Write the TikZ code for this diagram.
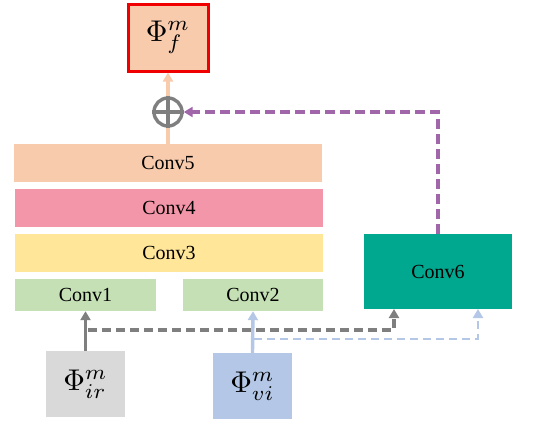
\documentclass[tikz,border=0pt]{standalone}
\usepackage{fontspec}
\setmainfont{Liberation Serif}
\usetikzlibrary{arrows.meta}
\definecolor{cpeach}{RGB}{248,203,173}
\definecolor{cpink}{RGB}{244,150,169}
\definecolor{cyellow}{RGB}{255,230,153}
\definecolor{cgreen}{RGB}{197,224,180}
\definecolor{cteal}{RGB}{0,168,143}
\definecolor{cgrayfill}{RGB}{217,217,217}
\definecolor{cbluefill}{RGB}{180,199,231}
\definecolor{cgrayline}{RGB}{127,127,127}
\definecolor{cpurple}{RGB}{161,102,170}
\definecolor{cred}{RGB}{240,0,0}
\newcommand{\bigmath}[1]{\scalebox{3.0}{$#1$}}
\tikzset{
  convbox/.style={rectangle, inner sep=0pt, font=\fontsize{20}{22}\selectfont},
  phibox/.style={rectangle, inner sep=0pt, minimum width=79pt, minimum height=66pt},
  tipstyle/.style={-{Triangle[width=10pt,length=9pt]}},
  grayarrow/.style={tipstyle, draw=cgrayline, line width=3.4pt},
  bluearrow/.style={tipstyle, draw=cbluefill, line width=3.4pt},
  dashpat/.style={dash pattern=on 9pt off 5pt},
}
\begin{document}
\begin{tikzpicture}[x=1pt,y=-1pt]
\useasboundingbox (0,0) rectangle (554,431);
% output
\node[phibox, fill=cpeach, draw=cred, line width=3pt, minimum width=80pt, minimum height=67pt] (phif) at (168,37.5) {\bigmath{\Phi_f^m}};
% plus
\node[circle, draw=cgrayline, line width=3.4pt, minimum size=28pt, inner sep=0pt] (plus) at (168,112) {};
\draw[cgrayline, line width=3.4pt] (plus.north) -- (plus.south) (plus.west) -- (plus.east);
% stack
\node[convbox, fill=cpeach, minimum width=308pt, minimum height=38pt] (conv5) at (168,163) {Conv5};
\node[convbox, fill=cpink, minimum width=308pt, minimum height=38pt] (conv4) at (169,208) {Conv4};
\node[convbox, fill=cyellow, minimum width=308pt, minimum height=38pt] (conv3) at (169,253) {Conv3};
\node[convbox, fill=cgreen, minimum width=141pt, minimum height=32pt] (conv1) at (85.5,295) {Conv1};
\node[convbox, fill=cgreen, minimum width=140pt, minimum height=32pt] (conv2) at (253,295) {Conv2};
\node[convbox, fill=cteal, minimum width=148pt, minimum height=75pt] (conv6) at (438,271.5) {Conv6};
% inputs
\node[phibox, fill=cgrayfill] (phiir) at (85.5,384) {\bigmath{\Phi_{ir}^m}};
\node[phibox, fill=cbluefill] (phivi) at (252.5,386) {\bigmath{\Phi_{vi}^m}};
% connectors
\draw[draw=cpeach, line width=3.4pt] (conv5.north) -- (plus.south);
\draw[tipstyle, draw=cpeach, line width=3.4pt] (plus.north) -- (phif.south);
\draw[tipstyle, draw=cpurple, line width=3.2pt, dash pattern=on 10pt off 5pt] (conv6.north) |- (plus.east);
\draw[grayarrow] (phiir.north) -- (conv1.south);
\draw[bluearrow] (phivi.north) -- (conv2.south);
\coordinate (gsplit) at (88,330);
\coordinate (g6) at (394,309);
\coordinate (bsplit) at (254,339);
\coordinate (b6) at (478,309);
\draw[grayarrow, line width=3.2pt, dashpat] (gsplit) -| (g6);
\draw[bluearrow, line width=2.6pt, dash pattern=on 8pt off 5pt] (bsplit) -| (b6);
\end{tikzpicture}
\end{document}
